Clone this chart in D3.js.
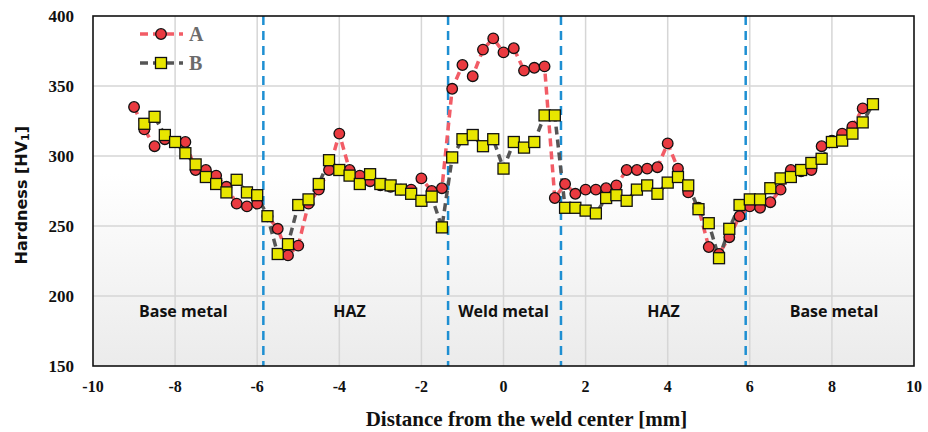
<!DOCTYPE html>
<html>

<head>
    <meta charset="utf-8">
    <title>Hardness profile</title>
    <script type="text/javascript" src="https://d3js.org/d3.v7.min.js"></script>
    <style>
        body { margin: 0; background: #fff; }
    </style>
</head>

<body>

    <script type="text/javascript">
    /* データ */
    var xA = [-9, -8.75, -8.5, -8.25, -8, -7.75, -7.5, -7.25, -7, -6.75, -6.5, -6.25,
        -6, -5.75, -5.5, -5.25, -5, -4.75, -4.5, -4.25, -4, -3.75, -3.5, -3.25,
        -3, -2.75, -2.5, -2.25, -2, -1.75, -1.5, -1.25, -1, -0.75, -0.5, -0.25,
        0, 0.25, 0.5, 0.75, 1, 1.25, 1.5, 1.75, 2, 2.25, 2.5, 2.75,
        3, 3.25, 3.5, 3.75, 4, 4.25, 4.5, 4.75, 5, 5.25, 5.5, 5.75,
        6, 6.25, 6.5, 6.75, 7, 7.25, 7.5, 7.75, 8, 8.25, 8.5, 8.75];
    var valuesA = [335, 319, 307, 312, 310, 310, 290, 290, 286, 278, 266, 264,
        266, 257, 248, 229, 236, 266, 276, 290, 316, 290, 286, 282,
        279, 278, 276, 276, 284, 275, 277, 348, 365, 357, 376, 384,
        374, 377, 361, 363, 364, 270, 280, 273, 276, 276, 277, 279,
        290, 290, 291, 292, 309, 291, 274, 263, 235, 230, 242, 257,
        264, 263, 267, 276, 290, 289, 290, 307, 311, 316, 321, 334];

    var xB = [-8.75, -8.5, -8.25, -8, -7.75, -7.5, -7.25, -7, -6.75, -6.5, -6.25,
        -6, -5.75, -5.5, -5.25, -5, -4.75, -4.5, -4.25, -4, -3.75, -3.5, -3.25,
        -3, -2.75, -2.5, -2.25, -2, -1.75, -1.5, -1.25, -1, -0.75, -0.5, -0.25,
        0, 0.25, 0.5, 0.75, 1, 1.25, 1.5, 1.75, 2, 2.25, 2.5, 2.75,
        3, 3.25, 3.5, 3.75, 4, 4.25, 4.5, 4.75, 5, 5.25, 5.5, 5.75,
        6, 6.25, 6.5, 6.75, 7, 7.25, 7.5, 7.75, 8, 8.25, 8.5, 8.75, 9];
    var valuesB = [323, 328, 315, 310, 302, 294, 285, 280, 274, 283, 274,
        272, 257, 230, 237, 265, 269, 280, 297, 290, 286, 280, 287,
        280, 279, 276, 273, 268, 271, 249, 299, 312, 315, 307, 312,
        291, 310, 306, 310, 329, 329, 263, 263, 261, 259, 270, 272,
        268, 276, 279, 273, 281, 285, 279, 262, 252, 227, 248, 265,
        269, 269, 277, 284, 285, 290, 295, 298, 310, 311, 316, 324, 337];

    var zoneBounds = [-5.85, -1.35, 1.4, 5.9];
    var zoneNames = ['Base metal', 'HAZ', 'Weld metal', 'HAZ', 'Base metal'];
    var zoneCenters = [-7.8, -3.75, 0, 3.9, 8.05];

    var xTicks = [-10, -8, -6, -4, -2, 0, 2, 4, 6, 8, 10];
    var yTicks = [150, 200, 250, 300, 350, 400];

    function HardnessChart() {
        var width = 928;
        var height = 432;
        var m = { left: 93, right: 14, top: 16, bottom: 66 };

        var svg = d3.select('body').append('svg')
            .attr('width', width)
            .attr('height', height);

        var x = d3.scaleLinear().domain([-10, 10]).range([m.left, width - m.right]);
        var y = d3.scaleLinear().domain([150, 400]).range([height - m.bottom, m.top]);

        /* 背景のグラデーション */
        var grad = svg.append('defs').append('linearGradient')
            .attr('id', 'bg').attr('x1', 0).attr('y1', 0).attr('x2', 0).attr('y2', 1);
        grad.append('stop').attr('offset', '0%').attr('stop-color', '#ffffff');
        grad.append('stop').attr('offset', '45%').attr('stop-color', '#ffffff');
        grad.append('stop').attr('offset', '100%').attr('stop-color', '#ebebeb');

        svg.append('rect')
            .attr('x', x(-10)).attr('y', y(400))
            .attr('width', x(10) - x(-10)).attr('height', y(150) - y(400))
            .attr('fill', 'url(#bg)');

        /* グリッド */
        svg.append('g').selectAll('line')
            .data(xTicks.slice(1, -1))
            .enter().append('line')
            .attr('x1', function(d) { return x(d); })
            .attr('x2', function(d) { return x(d); })
            .attr('y1', y(400)).attr('y2', y(150))
            .attr('stroke', '#d6d6d6').attr('stroke-width', 1.5);
        svg.append('g').selectAll('line')
            .data(yTicks.slice(1, -1))
            .enter().append('line')
            .attr('x1', x(-10)).attr('x2', x(10))
            .attr('y1', function(d) { return y(d); })
            .attr('y2', function(d) { return y(d); })
            .attr('stroke', '#d6d6d6').attr('stroke-width', 1.5);

        /* 領域の境界線 */
        svg.append('g').selectAll('line')
            .data(zoneBounds)
            .enter().append('line')
            .attr('x1', function(d) { return x(d); })
            .attr('x2', function(d) { return x(d); })
            .attr('y1', y(400)).attr('y2', y(150))
            .attr('stroke', '#1e8fd2').attr('stroke-width', 2.5)
            .attr('stroke-dasharray', '9,6');

        /* 領域名 */
        svg.append('g').selectAll('text')
            .data(zoneNames)
            .enter().append('text')
            .text(function(d) { return d; })
            .attr('x', function(d, i) { return x(zoneCenters[i]); })
            .attr('y', y(185))
            .attr('text-anchor', 'middle')
            .attr('font-family', '"Open Sans", sans-serif')
            .attr('font-weight', 'bold')
            .attr('font-size', '16px')
            .attr('fill', '#111');

        /* 折れ線 */
        var ptsA = xA.map(function(d, i) { return [d, valuesA[i]]; });
        var ptsB = xB.map(function(d, i) { return [d, valuesB[i]]; });
        var line = d3.line()
            .x(function(d) { return x(d[0]); })
            .y(function(d) { return y(d[1]); });

        svg.append('path').datum(ptsA)
            .attr('d', line).attr('fill', 'none')
            .attr('stroke', '#f25c66').attr('stroke-width', 3.5)
            .attr('stroke-dasharray', '8,5');
        svg.append('path').datum(ptsB)
            .attr('d', line).attr('fill', 'none')
            .attr('stroke', '#555555').attr('stroke-width', 3.5)
            .attr('stroke-dasharray', '8,5');

        /* マーカー */
        svg.append('g').selectAll('circle')
            .data(ptsA)
            .enter().append('circle')
            .attr('cx', function(d) { return x(d[0]); })
            .attr('cy', function(d) { return y(d[1]); })
            .attr('r', 5.3)
            .attr('fill', '#ea3a40').attr('stroke', '#111').attr('stroke-width', 1.3);
        svg.append('g').selectAll('rect')
            .data(ptsB)
            .enter().append('rect')
            .attr('x', function(d) { return x(d[0]) - 5.5; })
            .attr('y', function(d) { return y(d[1]) - 5.5; })
            .attr('width', 11).attr('height', 11)
            .attr('fill', '#e8e600').attr('stroke', '#111').attr('stroke-width', 1.3);

        /* 枠 */
        svg.append('rect')
            .attr('x', x(-10)).attr('y', y(400))
            .attr('width', x(10) - x(-10)).attr('height', y(150) - y(400))
            .attr('fill', 'none').attr('stroke', '#111').attr('stroke-width', 1.6);

        /* 軸ラベル */
        svg.append('g').selectAll('text')
            .data(xTicks)
            .enter().append('text')
            .text(function(d) { return d; })
            .attr('x', function(d) { return x(d); })
            .attr('y', 392)
            .attr('text-anchor', 'middle')
            .attr('font-family', '"Liberation Serif", serif')
            .attr('font-weight', 'bold').attr('font-size', '16px')
            .attr('fill', '#111');
        svg.append('g').selectAll('text')
            .data(yTicks)
            .enter().append('text')
            .text(function(d) { return d; })
            .attr('x', 74)
            .attr('y', function(d) { return y(d) + 6; })
            .attr('text-anchor', 'end')
            .attr('font-family', '"Liberation Serif", serif')
            .attr('font-weight', 'bold').attr('font-size', '17px')
            .attr('fill', '#111');

        svg.append('text')
            .text('Distance from the weld center [mm]')
            .attr('x', x(0) + 23).attr('y', 426)
            .attr('text-anchor', 'middle')
            .attr('font-family', '"Liberation Serif", serif')
            .attr('font-weight', 'bold').attr('font-size', '21px')
            .attr('fill', '#111');

        var yTitle = svg.append('text')
            .attr('transform', 'translate(27,' + y(272) + ') rotate(-90)')
            .attr('text-anchor', 'middle')
            .attr('font-family', '"DejaVu Sans", sans-serif')
            .attr('font-weight', 'bold').attr('font-size', '16px')
            .attr('fill', '#111');
        yTitle.append('tspan').text('Hardness [HV');
        yTitle.append('tspan').text('1').attr('font-size', '11px').attr('dy', 2);
        yTitle.append('tspan').text(']').attr('dy', -2);

        /* 凡例 */
        var legend = [
            { name: 'A', color: '#f25c66', marker: 'circle' },
            { name: 'B', color: '#555555', marker: 'square' }
        ];
        var lg = svg.append('g').selectAll('g')
            .data(legend)
            .enter().append('g')
            .attr('transform', function(d, i) { return 'translate(140,' + (34 + i * 29) + ')'; });
        lg.append('line')
            .attr('x1', 0).attr('x2', 43).attr('y1', 0).attr('y2', 0)
            .attr('stroke', function(d) { return d.color; })
            .attr('stroke-width', 3.5).attr('stroke-dasharray', '8,5');
        lg.filter(function(d) { return d.marker === 'circle'; })
            .append('circle')
            .attr('cx', 21).attr('cy', 0).attr('r', 5.3)
            .attr('fill', '#ea3a40').attr('stroke', '#111').attr('stroke-width', 1.3);
        lg.filter(function(d) { return d.marker === 'square'; })
            .append('rect')
            .attr('x', 15.5).attr('y', -5.5).attr('width', 11).attr('height', 11)
            .attr('fill', '#e8e600').attr('stroke', '#111').attr('stroke-width', 1.3);
        lg.append('text')
            .text(function(d) { return d.name; })
            .attr('x', 49).attr('y', 7)
            .attr('font-family', '"Liberation Serif", serif')
            .attr('font-weight', 'bold').attr('font-size', '20px')
            .attr('fill', '#6b6b6b');
    }

    HardnessChart();
    </script>
</body>

</html>
